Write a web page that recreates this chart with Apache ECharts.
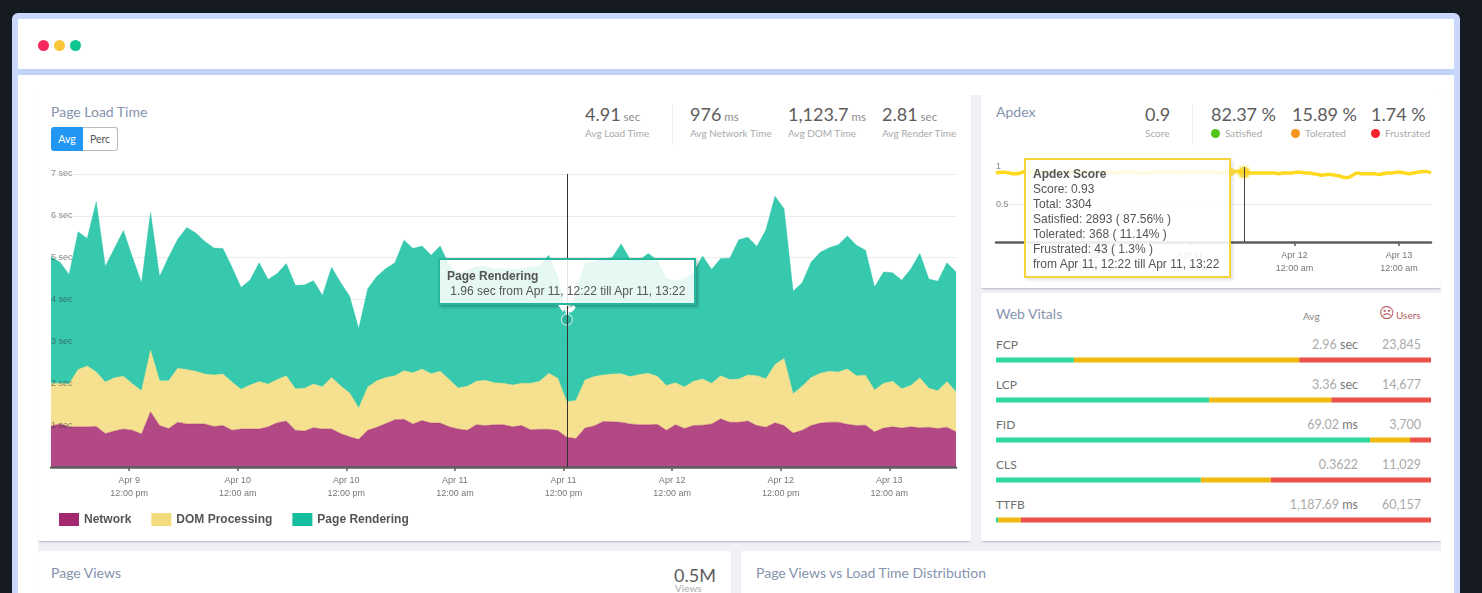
<!DOCTYPE html>
<html lang="en">
<head>
<meta charset="UTF-8">
<title>Page Load Time</title>
<style>
    html, body { margin: 0; padding: 0; width: 1482px; height: 593px; overflow: hidden; background: #161b22; font-family: Lato, sans-serif; }
    #frame { position: absolute; left: 12px; top: 13px; width: 1436px; height: 600px; border: 6px solid #c8d7fa; border-radius: 6px 6px 0 0; background: #fff; }
    #sep { position: absolute; left: 18px; top: 69px; width: 1436px; height: 6px; background: #c3d3f7; }
    .dot { position: absolute; border-radius: 50%; }
    #gap { position: absolute; left: 38px; top: 95px; width: 1403px; height: 498px; background: #f0f1f4; }
    .card { position: absolute; background: #fff; border-radius: 2px; box-shadow: 0 2px 2px -1px rgba(40, 50, 80, .3); }
    .t { position: absolute; white-space: nowrap; line-height: 1; }
    .title { font-size: 14px; color: #8593ad; }
    .num { font-size: 18px; color: #5c5c5c; }
    .num small { font-size: 11.5px; color: #8c8c8c; margin-left: 3px; }
    .lab { font-size: 10px; color: #aaa; }
    .div { position: absolute; width: 1px; background: #eee; }
    .chart { position: absolute; }
    .btn { position: absolute; top: 127px; height: 24px; line-height: 24px; text-align: center; font-size: 10.5px; box-sizing: border-box; }
    .vname { font-size: 12px; color: #707070; }
    .vval { font-size: 12.5px; color: #aaa; text-align: right; }
    .vval small { font-size: 12.5px; color: #777; }
    .tip-main::before { content: ""; position: absolute; left: 120px; bottom: -7px; border: 5px solid transparent; border-top: 7px solid #fff; border-bottom: 0; }
    .tip-main::after { content: ""; position: absolute; left: 132px; bottom: -8px; width: 4px; height: 8px; background: #fff; border-radius: 3px; transform: rotate(45deg); }
    .tip-apdex::after { content: ""; position: absolute; right: -6px; top: 9px; border: 5px solid transparent; border-left: 6px solid #f5d43c; border-right: 0; }
</style>
<script src="https://cdn.jsdelivr.net/npm/echarts@6/dist/echarts.min.js"></script>
</head>
<body>
<div id="frame"></div>
<div id="sep"></div>
<div class="dot" style="left:38px;top:40px;width:11px;height:11px;background:#f6285b"></div>
<div class="dot" style="left:54px;top:40px;width:11px;height:11px;background:#fcc63a"></div>
<div class="dot" style="left:70px;top:40px;width:11px;height:11px;background:#0cc58f"></div>

<div id="gap"></div>
<div class="card" style="left:38px;top:95px;width:933px;height:446px"></div>
<div class="card" style="left:981px;top:95px;width:460px;height:193px"></div>
<div class="card" style="left:981px;top:293px;width:460px;height:248px"></div>
<div class="card" style="left:38px;top:551px;width:693px;height:60px"></div>
<div class="card" style="left:741px;top:551px;width:700px;height:60px"></div>

<!-- 主图标题和统计 -->
<div class="t title" style="left:51px;top:105px">Page Load Time</div>
<div class="btn" style="left:51px;width:32px;background:#2196f3;color:#fff;border-radius:3px 0 0 3px">Avg</div>
<div class="btn" style="left:83px;width:35px;border:1px solid #bbb;border-left:0;color:#555;border-radius:0 3px 3px 0;line-height:22px">Perc</div>
<div class="t num" style="left:585px;top:105px">4.91<small>sec</small></div>
<div class="t lab" style="left:585px;top:128px">Avg Load Time</div>
<div class="div" style="left:672px;top:104px;height:41px"></div>
<div class="t num" style="left:690px;top:105px">976<small>ms</small></div>
<div class="t lab" style="left:690px;top:128px">Avg Network Time</div>
<div class="t num" style="left:788px;top:105px">1,123.7<small>ms</small></div>
<div class="t lab" style="left:788px;top:128px">Avg DOM Time</div>
<div class="t num" style="left:882px;top:105px">2.81<small>sec</small></div>
<div class="t lab" style="left:882px;top:128px">Avg Render Time</div>

<!-- Apdex -->
<div class="t title" style="left:996px;top:105px">Apdex</div>
<div class="t num" style="left:1145px;top:105px">0.9</div>
<div class="t lab" style="left:1145px;top:128px">Score</div>
<div class="div" style="left:1192px;top:104px;height:41px"></div>
<div class="t num" style="left:1211px;top:105px">82.37 %</div>
<div class="dot" style="left:1211px;top:129px;width:9px;height:9px;background:#52c41a"></div>
<div class="t lab" style="left:1225px;top:128px">Satisfied</div>
<div class="t num" style="left:1292px;top:105px">15.89 %</div>
<div class="dot" style="left:1291px;top:129px;width:9px;height:9px;background:#f7941d"></div>
<div class="t lab" style="left:1305px;top:128px">Tolerated</div>
<div class="t num" style="left:1371px;top:105px">1.74 %</div>
<div class="dot" style="left:1371px;top:129px;width:9px;height:9px;background:#f5222d"></div>
<div class="t lab" style="left:1385px;top:128px">Frustrated</div>

<!-- Web Vitals -->
<div class="t title" style="left:996px;top:307px">Web Vitals</div>
<div class="t lab" style="left:1303px;top:311px;color:#888">Avg</div>
<div class="t" style="left:1379px;top:306px;font-size:15px;color:#b5565a;font-family:'DejaVu Sans'">&#9785;</div>
<div class="t lab" style="left:1396px;top:310px;color:#b35b5b">Users</div>
<div id="vitalText"></div>

<!-- 下方卡片 -->
<div class="t title" style="left:51px;top:566px">Page Views</div>
<div class="t num" style="left:674px;top:566px">0.5M</div>
<div class="t lab" style="left:675px;top:583px">Views</div>
<div class="t title" style="left:756px;top:566px">Page Views vs Load Time Distribution</div>

<div id="loadChart" class="chart" style="left:38px;top:95px;width:933px;height:446px"></div>
<div id="apdexChart" class="chart" style="left:981px;top:95px;width:460px;height:193px"></div>
<div id="vitalChart" class="chart" style="left:981px;top:293px;width:460px;height:248px"></div>

<script>
    // 每小时一个点，从 Apr 9 03:22 开始
    var startTime = new Date(2021, 3, 9, 3, 22).getTime();
    var hour = 3600 * 1000;
    var hoverIndex = 57;

    var network = [
        .98, 1.03, .96, .96, .96, .97, .80, .86, .91, .88,
        .79, 1.32, .99, .92, 1.07, 1.03, 1.03, 1.03, .97, .99,
        .88, .91, .91, .91, .96, 1.06, 1.10, .88, .86, .94,
        .91, .91, .80, .72, .66, .88, .95, 1.04, 1.13, 1.14,
        1.03, 1.11, 1.05, 1.05, .96, .91, .88, 1.01, .99, 1.01,
        1.01, .96, .99, .89, .90, .90, .87, .71, .68, .93,
        .98, 1.09, 1.08, 1.07, 1.03, 1.01, 1.01, 1.02, .88, 1.01,
        .92, .99, 1.00, 1.03, 1.15, 1.07, 1.07, 1.10, .99, .95,
        1.06, .99, .81, .88, .99, 1.05, 1.07, 1.07, 1.02, .99,
        1.00, .84, .93, .96, .93, .96, .94, .95, .92, .95,
        .84
    ];
    var domProcessing = [
        1.02, .97, 1.03, 1.37, 1.45, 1.30, 1.23, 1.27, 1.26, 1.11,
        1.03, 1.47, 1.07, 1.14, 1.29, 1.30, 1.26, 1.19, 1.23, 1.23,
        1.15, .95, 1.05, 1.13, 1.02, 1.03, 1.08, .99, 1.02, 1.04,
        1.01, 1.23, 1.14, 1.05, .75, 1.03, 1.11, 1.10, 1.05, 1.16,
        1.22, 1.23, 1.18, 1.24, 1.13, .98, 1.05, 1.04, 1.08, 1.00,
        .99, 1.00, 1.01, 1.11, 1.15, 1.34, 1.25, .85, .91, 1.15,
        1.18, 1.11, 1.14, 1.16, 1.13, 1.20, 1.23, 1.15, 1.07, 1.00,
        .99, 1.06, 1.10, .97, 1.03, 1.02, 1.03, 1.10, 1.19, 1.16,
        1.39, 1.60, .94, 1.05, 1.15, 1.19, 1.22, 1.20, 1.32, 1.19,
        1.19, 1.00, 1.07, 1.09, .94, .99, 1.19, .93, .90, 1.09,
        .96
    ];
    var pageRendering = [
        3.02, 2.89, 2.61, 3.29, 3.05, 4.07, 2.76, 3.09, 3.48, 3.02,
        2.58, 3.29, 2.49, 2.96, 3.08, 3.39, 3.30, 3.17, 3.03, 3.00,
        2.74, 2.43, 2.51, 2.84, 2.50, 2.53, 2.68, 2.47, 2.47, 2.47,
        2.18, 2.63, 2.47, 2.31, 1.89, 2.35, 2.49, 2.60, 2.70, 3.12,
        2.97, 2.94, 2.83, 2.99, 2.73, 2.74, 2.77, 2.73, 2.72, 2.73,
        2.74, 2.75, 2.74, 2.78, 2.75, 2.82, 2.42, 1.96, 2.57, 2.79,
        2.74, 2.78, 2.78, 3.10, 2.80, 2.73, 2.86, 2.77, 2.55, 2.45,
        2.59, 2.61, 2.94, 2.72, 2.80, 2.90, 3.33, 3.29, 3.09, 3.56,
        4.02, 3.58, 2.45, 2.47, 2.76, 2.89, 2.95, 3.04, 3.18, 3.12,
        2.99, 2.46, 2.66, 2.59, 2.59, 2.78, 2.97, 2.61, 2.62, 2.84,
        2.86
    ];
    var apdexScore = [
        .92, .93, .93, .92, .91, .91, .93, .94, .93, .93,
        .92, .93, .93, .94, .93, .92, .93, .93, .94, .94,
        .93, .92, .93, .93, .93, .94, .93, .93, .92, .93,
        .94, .93, .93, .92, .91, .93, .93, .94, .93, .93,
        .93, .94, .93, .92, .93, .93, .93, .94, .93, .93,
        .93, .92, .93, .93, .93, .94, .94, .93, .92, .92,
        .92, .92, .92, .92, .92, .91, .92, .92, .92, .93,
        .93, .92, .92, .91, .90, .89, .90, .90, .89, .88,
        .86, .86, .89, .92, .91, .91, .91, .91, .90, .91,
        .92, .92, .93, .93, .92, .91, .92, .93, .94, .94,
        .92
    ];

    var vitalNames = ['FCP', 'LCP', 'FID', 'CLS', 'TTFB'];
    var vitalGood = [17.9, 49.0, 86.0, 47.1, 0.5];
    var vitalOk = [51.8, 28.1, 9.2, 16.1, 5.2];
    var vitalBad = [30.3, 22.9, 4.8, 36.8, 94.3];
    var vitalAvg = ['2.96', '3.36', '69.02', '0.3622', '1,187.69'];
    var vitalUnit = ['sec', 'sec', 'ms', '', 'ms'];
    var vitalUsers = ['23,845', '14,677', '3,700', '11,029', '60,157'];

    var monthNames = ['Jan', 'Feb', 'Mar', 'Apr', 'May', 'Jun', 'Jul', 'Aug', 'Sep', 'Oct', 'Nov', 'Dec'];

    // 刻度时间 [日, 时]
    var loadTicks = [[9, 12], [10, 0], [10, 12], [11, 0], [11, 12], [12, 0], [12, 12], [13, 0]];
    var apdexTicks = [[10, 0], [11, 0], [12, 0], [13, 0]];

    function withTime(list) {
        return list.map(function (v, i) { return [startTime + i * hour, v]; });
    }

    function timeAxis(ticks) {
        var values = ticks.map(function (t) { return new Date(2021, 3, t[0], t[1]).getTime(); });
        return {
            type: 'time',
            min: startTime,
            max: startTime + 100 * hour,
            z: 4,
            splitLine: { show: false },
            axisLine: { onZero: false, lineStyle: { color: '#5e5e5e', width: 2.5 } },
            axisTick: { length: 4, customValues: values, lineStyle: { color: '#5e5e5e', width: 1.5 } },
            axisLabel: {
                // 只显示刻度列表里的时间，其余自动刻度留空
                formatter: function (value) {
                    if (values.indexOf(value) < 0) return '';
                    var d = new Date(value);
                    return monthNames[d.getMonth()] + ' ' + d.getDate() + '\n' + (d.getHours() === 12 ? '12:00 pm' : '12:00 am');
                },
                color: '#777', fontSize: 9, lineHeight: 13, margin: 7,
                fontFamily: 'Liberation Sans', showMinLabel: false, showMaxLabel: false
            }
        };
    }

    // 页面加载时间
    var loadChart = echarts.init(document.getElementById('loadChart'));
    var areaSeries = [
        { name: 'Network', data: network, color: '#a4286f' },
        { name: 'DOM Processing', data: domProcessing, color: '#f3dc7c' },
        { name: 'Page Rendering', data: pageRendering, color: '#14bf9f' }
    ].map(function (s) {
        return {
            name: s.name,
            type: 'line',
            stack: 'load',
            data: withTime(s.data),
            symbol: 'none',
            emphasis: { disabled: true },
            itemStyle: { color: s.color },
            lineStyle: { width: 0.6, color: s.color, opacity: 0.6 },
            areaStyle: { color: s.color, opacity: 0.85 }
        };
    });
    var hoverTotal = network[hoverIndex] + domProcessing[hoverIndex] + pageRendering[hoverIndex];
    areaSeries.push({
        type: 'scatter',
        data: [[startTime + hoverIndex * hour, hoverTotal]],
        symbolSize: 11,
        emphasis: { disabled: true },
        itemStyle: { color: '#2aaf98', borderColor: '#d9f5ef', borderWidth: 1.2 },
        z: 5
    });

    loadChart.setOption({
        animation: false,
        grid: { left: 13, top: 79, width: 905, height: 293 },
        legend: {
            left: 21, top: 418, padding: 0, itemWidth: 20, itemHeight: 13, itemGap: 20, icon: 'rect',
            data: ['Network', 'DOM Processing', 'Page Rendering'],
            textStyle: { fontFamily: 'Liberation Sans', fontSize: 12, fontWeight: 'bold', color: '#555' }
        },
        tooltip: {
            trigger: 'axis',
            triggerOn: 'none',
            alwaysShowContent: true,
            transitionDuration: 0,
            className: 'tip-main',
            padding: 0,
            borderWidth: 0,
            backgroundColor: 'transparent',
            extraCssText: 'box-shadow:none;',
            axisPointer: { type: 'line', lineStyle: { color: '#333', width: 1, type: 'solid' }, label: { show: false } },
            position: function () { return [400, 163]; },
            formatter: function () {
                return '<div style="box-sizing:border-box;width:258px;height:47px;padding:9px 7px;border:2.5px solid #26b89c;background:rgba(255,255,255,.87);' +
                    'box-shadow:2px 2px 3px rgba(0,0,0,.25);font:12px/15px \'Liberation Sans\';color:#555">' +
                    '<b>Page Rendering</b><br>&nbsp;' + pageRendering[hoverIndex] + ' sec from Apr 11, 12:22 till Apr 11, 13:22</div>';
            }
        },
        xAxis: timeAxis(loadTicks),
        yAxis: {
            type: 'value', min: 0, max: 7, interval: 1, z: 3,
            axisLine: { show: false },
            axisTick: { show: false },
            splitLine: { showMinLine: false, lineStyle: { color: '#ececec' } },
            axisLabel: {
                inside: true, margin: 0, fontSize: 9, color: 'rgba(50,60,60,.6)', fontFamily: 'Liberation Sans',
                verticalAlign: 'middle', padding: [0, 0, 4, 0],
                formatter: function (v) { return v === 0 ? '' : v + ' sec'; }
            }
        },
        series: areaSeries
    });
    loadChart.dispatchAction({ type: 'showTip', seriesIndex: 0, dataIndex: hoverIndex });

    // Apdex 分数
    var apdexChart = echarts.init(document.getElementById('apdexChart'));
    apdexChart.setOption({
        animation: false,
        grid: { left: 15, top: 72, width: 435, height: 75 },
        tooltip: {
            trigger: 'axis',
            triggerOn: 'none',
            alwaysShowContent: true,
            transitionDuration: 0,
            className: 'tip-apdex',
            padding: 0,
            borderWidth: 0,
            backgroundColor: 'transparent',
            extraCssText: 'box-shadow:none;',
            axisPointer: { type: 'line', lineStyle: { color: '#444', width: 1, type: 'solid' }, label: { show: false } },
            position: function () { return [43, 63]; },
            formatter: function () {
                return '<div style="box-sizing:border-box;width:207px;height:120px;padding:7px 7px;border:2px solid #f5d43c;background:rgba(255,255,255,.88);' +
                    'box-shadow:2px 2px 3px rgba(0,0,0,.12);font:12px/15px \'Liberation Sans\';color:#555"><b>Apdex Score</b><br>Score: ' + apdexScore[hoverIndex] +
                    '<br>Total: 3304<br>Satisfied: 2893 ( 87.56% )<br>Tolerated: 368 ( 11.14% )<br>Frustrated: 43 ( 1.3% )<br>from Apr 11, 12:22 till Apr 11, 13:22</div>';
            }
        },
        xAxis: timeAxis(apdexTicks),
        yAxis: {
            type: 'value', min: 0, max: 1, interval: 0.5, z: 3,
            axisLine: { show: false },
            axisTick: { show: false },
            splitLine: { showMinLine: false, showMaxLine: false, lineStyle: { color: '#ececec' } },
            axisLabel: {
                inside: true, margin: 0, fontSize: 9, color: '#888', fontFamily: 'Liberation Sans',
                verticalAlign: 'middle', padding: [0, 0, 9, 0],
                formatter: function (v) { return v === 0 ? '' : String(v); }
            }
        },
        series: [
            {
                type: 'line',
                data: withTime(apdexScore),
                symbol: 'none',
                emphasis: { disabled: true },
                smooth: 0.3,
                lineStyle: { color: '#ffd91e', width: 3.5 },
                itemStyle: { color: '#ffd91e' }
            },
            {
                type: 'scatter',
                data: [[startTime + hoverIndex * hour, apdexScore[hoverIndex]]],
                symbolSize: 11,
                clip: false,
                emphasis: { disabled: true },
                itemStyle: { color: '#f5cf1e', borderColor: 'rgba(255,217,30,.35)', borderWidth: 4 },
                z: 5
            }
        ]
    });
    apdexChart.dispatchAction({ type: 'showTip', seriesIndex: 0, dataIndex: hoverIndex });

    // Web Vitals 堆叠条
    var vitalChart = echarts.init(document.getElementById('vitalChart'));
    vitalChart.setOption({
        animation: false,
        grid: { left: 15, top: 47, width: 435, height: 200 },
        xAxis: { type: 'value', min: 0, max: 100, show: false },
        yAxis: { type: 'category', inverse: true, data: vitalNames, show: false },
        series: [
            { data: vitalGood, color: '#2ed99a' },
            { data: vitalOk, color: '#f0b90f' },
            { data: vitalBad, color: '#ea5349' }
        ].map(function (s) {
            return { type: 'bar', stack: 'vital', barWidth: 5, data: s.data, itemStyle: { color: s.color } };
        })
    });

    var rows = '';
    vitalNames.forEach(function (name, i) {
        var top = 339 + i * 40;
        rows += '<div class="t vname" style="left:996px;top:' + top + 'px">' + name + '</div>';
        rows += '<div class="t vval" style="right:124px;top:' + top + 'px">' + vitalAvg[i] +
            (vitalUnit[i] ? ' <small>' + vitalUnit[i] + '</small>' : '') + '</div>';
        rows += '<div class="t vval" style="right:61px;top:' + top + 'px">' + vitalUsers[i] + '</div>';
    });
    document.getElementById('vitalText').innerHTML = rows;
</script>
</body>
</html>
